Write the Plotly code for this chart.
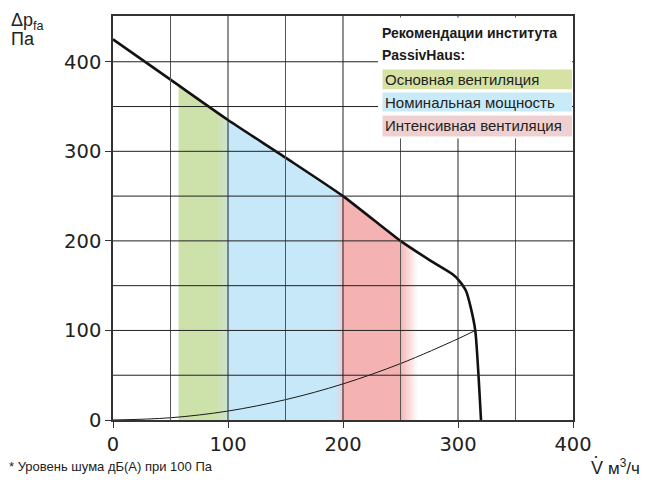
import numpy as np
import plotly.graph_objects as go

# ---------------- data ----------------
fan_x = [0, 50, 100, 150, 200, 250, 276, 295, 300, 307, 311, 315, 320]
fan_y = [425, 380, 335, 293, 250, 200, 178, 163, 157, 144, 126, 100, 0]

sys_x = [0, 50, 100, 150, 200, 250, 300, 315]
sys_y = [0, 2.5, 10, 22.7, 40.3, 63, 90.7, 100]

band_labels = ["Основная вентиляция", "Номинальная мощность", "Интенсивная вентиляция"]
band_start = [57, 100, 199]
band_end = [100, 199, 250]

x_ticks = [0, 100, 200, 300, 400]
y_ticks = [0, 100, 200, 300, 400]
x_grid = [50, 100, 150, 200, 250, 300, 350]
y_grid = [50, 100, 150, 200, 250, 300, 350, 400]

# ---------------- style ----------------
band_colors = [(205, 225, 171), (198, 232, 248), (245, 178, 178)]
legend_colors = ["#d6e2a4", "#c9eaf8", "#efd0d0"]
fades = [
    (91, 100, (200, 226, 212)),
    (192, 199, (218, 212, 228)),
    (250, 265, (255, 255, 255)),
]
FONT = "Liberation Sans, Arial, sans-serif"
TICKFONT = "DejaVu Sans, Liberation Sans, sans-serif"

# page offset (default body margin of the html page)
OFF = 8

def curve_at(x):
    return float(np.interp(x, fan_x, fan_y))

def mix(c1, c2, t):
    return "rgb(%d,%d,%d)" % tuple(round(a + (b - a) * t) for a, b in zip(c1, c2))

fig = go.Figure()

def add_poly(a, b, color):
    xs = np.linspace(a, b, 8)
    px = [a] + list(xs) + [b]
    py = [0] + [curve_at(v) for v in xs] + [0]
    fig.add_trace(go.Scatter(x=px, y=py, fill="toself", fillcolor=color,
                             mode="none", hoverinfo="skip", showlegend=False))

for i in range(3):
    c = band_colors[i]
    fs, fe, fc = fades[i]
    solid_end = min(band_end[i], fs)
    add_poly(band_start[i], solid_end + 0.3, "rgb(%d,%d,%d)" % c)
    step = 0.5
    s = fs
    while s < fe:
        t = (s + step / 2 - fs) / (fe - fs)
        add_poly(s, min(s + step + 0.35, fe), mix(c, fc, t))
        s += step

fig.add_trace(go.Scatter(x=sys_x, y=sys_y, mode="lines",
                         line=dict(color="#1a1a1a", width=1, shape="spline"),
                         hoverinfo="skip", showlegend=False))
fig.add_trace(go.Scatter(x=fan_x, y=fan_y, mode="lines",
                         line=dict(color="#111111", width=2.6, shape="spline", smoothing=0.6),
                         hoverinfo="skip", showlegend=False))

shapes = []
for gx in x_grid:
    shapes.append(dict(type="line", xref="x", yref="paper", x0=gx, x1=gx, y0=0, y1=1,
                       line=dict(color="#222" if gx % 100 == 0 else "#555", width=1),
                       layer="above"))
for gy in y_grid:
    shapes.append(dict(type="line", xref="paper", yref="y", x0=0, x1=1, y0=gy, y1=gy,
                       line=dict(color="#222", width=1), layer="above"))

# page pixel -> paper coords (plot area: x 113..573, y 14..420 on the page)
def px2x(p):
    return (p - 113) / 460.0

def py2y(p):
    return (420 - p) / 406.0

shapes.append(dict(type="rect", xref="paper", yref="paper",
                   x0=px2x(378), x1=px2x(572), y0=py2y(137), y1=py2y(15.5),
                   fillcolor="white", line=dict(width=0), layer="above"))
box_rows = [(67.7, 87.7), (91, 110), (114, 135)]
for (t, b), col in zip(box_rows, legend_colors):
    shapes.append(dict(type="rect", xref="paper", yref="paper",
                       x0=px2x(382.5), x1=px2x(572), y0=py2y(b), y1=py2y(t),
                       fillcolor=col, line=dict(width=0), layer="above"))

ann = []
ann.append(dict(text="<b>Рекомендации института</b>", x=px2x(380), y=py2y(31),
                xanchor="left", yanchor="middle", font=dict(size=14, color="#1a1a1a")))
ann.append(dict(text="<b>PassivHaus:</b>", x=px2x(380), y=py2y(53),
                xanchor="left", yanchor="middle", font=dict(size=14, color="#1a1a1a")))
for (t, b), lab in zip(box_rows, band_labels):
    ann.append(dict(text=lab, x=px2x(383), y=py2y((t + b) / 2), xanchor="left",
                    yanchor="middle", font=dict(size=15, color="#222")))
ann.append(dict(text="Δp<sub>fa</sub>", x=px2x(9), y=py2y(20), xanchor="left",
                yanchor="middle", font=dict(size=18, color="#222")))
ann.append(dict(text="Па", x=px2x(9), y=py2y(37), xanchor="left",
                yanchor="middle", font=dict(size=18, color="#222")))
ann.append(dict(text="* Уровень шума дБ(А) при 100 Па", x=px2x(7), y=py2y(467),
                xanchor="left", yanchor="middle", font=dict(size=13, color="#222")))
ann.append(dict(text="V", x=px2x(589), y=py2y(468),
                xanchor="left", yanchor="middle", font=dict(size=18, color="#222")))
ann.append(dict(text="·", x=px2x(595.5), y=py2y(456),
                xanchor="center", yanchor="middle", font=dict(size=18, color="#222")))
ann.append(dict(text="м<sup>3</sup>/ч", x=px2x(606), y=py2y(467),
                xanchor="left", yanchor="middle", font=dict(size=17, color="#222")))
for a in ann:
    a.update(xref="paper", yref="paper", showarrow=False)

fig.update_layout(
    width=650 - OFF, height=483 - OFF,
    margin=dict(l=113 - OFF, r=650 - 573, t=14 - OFF, b=483 - 420),
    paper_bgcolor="white", plot_bgcolor="white",
    font=dict(family=FONT, color="#222"),
    shapes=shapes, annotations=ann, showlegend=False,
)
fig.update_xaxes(range=[0, 400], tickvals=x_ticks, ticktext=[str(v) for v in x_ticks],
                 showgrid=False, zeroline=False, showline=True, mirror=True,
                 linecolor="#333", linewidth=1.5, ticks="outside", ticklen=6,
                 tickcolor="#333", tickfont=dict(family=TICKFONT, size=19.5, color="#222"))
fig.update_yaxes(range=[0, 451.1], tickvals=y_ticks, ticktext=[str(v) for v in y_ticks],
                 showgrid=False, zeroline=False, showline=True, mirror=True,
                 linecolor="#333", linewidth=1.5, ticks="outside", ticklen=6,
                 tickcolor="#333", tickfont=dict(family=TICKFONT, size=19.5, color="#222"))

fig.write_html("out.html")
